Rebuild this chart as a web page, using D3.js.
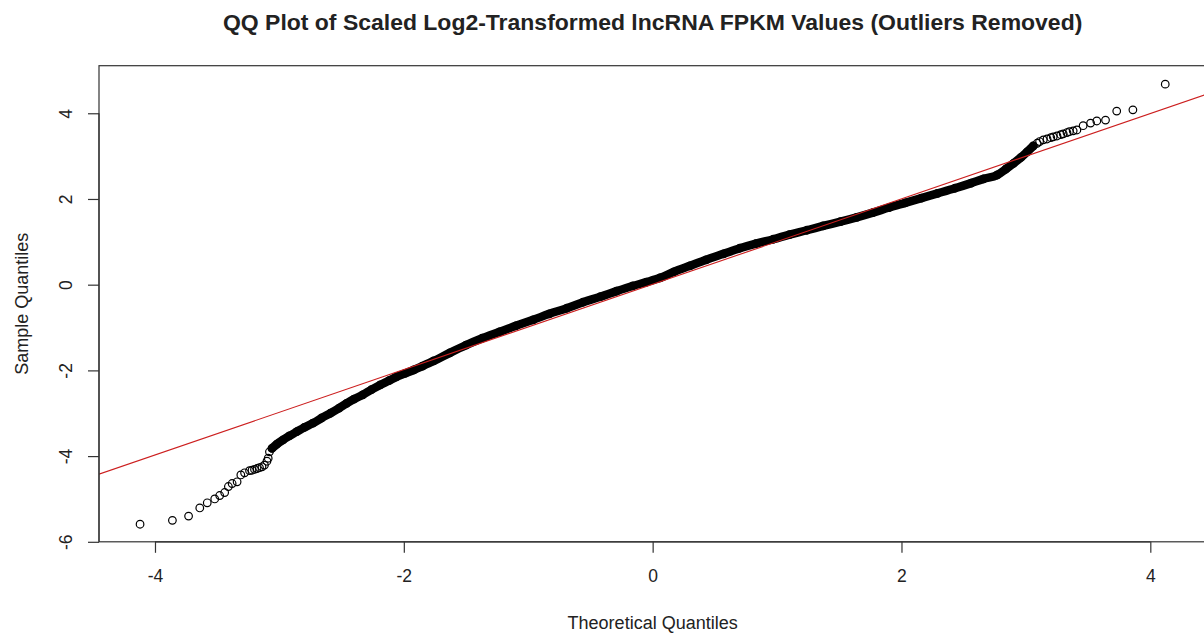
<!DOCTYPE html>
<html><head><meta charset="utf-8">
<script src="https://cdn.jsdelivr.net/npm/d3@7"></script>
<style>
html,body{margin:0;padding:0;background:#fff;}
svg{display:block;}
text{font-family:"Liberation Sans",Arial,Helvetica,sans-serif;fill:#222;}
</style></head><body>
<script>
// ---- data ----
const titleText = "QQ Plot of Scaled Log2-Transformed lncRNA FPKM Values (Outliers Removed)";
const xLabel = "Theoretical Quantiles";
const yLabel = "Sample Quantiles";
const xTicks = [-4, -2, 0, 2, 4];
const yTicks = [-6, -4, -2, 0, 2, 4];
const xDomain = [-4.45, 4.45];
const yDomain = [-6.0, 5.11];

// theoretical quantiles (x) and sample quantiles (y), sorted
const theoretical = [
 -4.12,-3.86,-3.73,-3.64,-3.58,-3.52,-3.48,-3.44,-3.41,-3.38,-3.34,-3.31,-3.28,-3.24,-3.22,-3.20,-3.18,-3.16,-3.14,-3.12,-3.10,-3.09,-3.08,
 -3.06,-3.02,-2.97,-2.92,-2.86,-2.80,-2.73,-2.66,-2.59,-2.52,-2.46,-2.40,-2.33,-2.26,-2.19,-2.12,-2.06,-1.99,-1.92,-1.85,
 -1.76,-1.63,-1.50,-1.37,-1.23,-1.10,-0.96,-0.83,-0.69,-0.56,-0.42,-0.29,-0.16,-0.05,0.06,0.17,0.30,0.43,0.57,0.70,0.83,
 0.97,1.10,1.24,1.37,1.51,1.64,1.77,1.90,2.03,2.16,2.29,2.43,2.56,2.66,2.77,2.84,2.90,2.96,3.01,3.06,
 3.09,3.11,3.14,3.17,3.20,3.22,3.25,3.28,3.30,3.33,3.35,3.38,3.41,3.46,3.52,3.57,3.64,3.73,3.86,4.12
];
const sample = [
 -5.59,-5.50,-5.40,-5.21,-5.09,-5.00,-4.92,-4.85,-4.71,-4.64,-4.60,-4.44,-4.39,-4.34,-4.33,-4.31,-4.29,-4.27,-4.25,-4.21,-4.12,-4.05,-3.90,
 -3.82,-3.72,-3.62,-3.53,-3.43,-3.33,-3.23,-3.11,-3.00,-2.88,-2.77,-2.67,-2.57,-2.45,-2.34,-2.24,-2.15,-2.07,-1.99,-1.90,
 -1.78,-1.59,-1.41,-1.25,-1.10,-0.96,-0.82,-0.68,-0.55,-0.41,-0.28,-0.15,-0.03,0.06,0.16,0.30,0.44,0.58,0.72,0.85,0.96,
 1.06,1.17,1.27,1.37,1.47,1.57,1.68,1.80,1.91,2.02,2.13,2.25,2.37,2.47,2.56,2.70,2.83,2.97,3.10,3.24,
 3.30,3.34,3.38,3.40,3.43,3.45,3.47,3.50,3.52,3.55,3.57,3.59,3.61,3.71,3.77,3.82,3.84,4.05,4.08,4.68
];
const denseRange = [-3.06, 3.06];   // where the points overlap into a solid band
const lineIntercept = 0.01;
const lineSlope = 0.996;

// ---- drawing ----
const W = 1204, H = 635;
const plot = {left: 99, right: 1206.3, top: 65.7, bottom: 541.8};

const svg = d3.select("body").append("svg").attr("width", W).attr("height", H);

const x = d3.scaleLinear().domain(xDomain).range([plot.left, plot.right]);
const y = d3.scaleLinear().domain(yDomain).range([plot.bottom, plot.top]);

svg.append("defs").append("clipPath").attr("id", "clip")
  .append("rect").attr("x", plot.left).attr("y", plot.top)
  .attr("width", plot.right - plot.left).attr("height", plot.bottom - plot.top);

const g = svg.append("g").attr("clip-path", "url(#clip)");

const pts = theoretical.map((t, i) => ({t, s: sample[i]}));
const dense = pts.filter(p => p.t >= denseRange[0] && p.t <= denseRange[1]);

g.append("path").datum(dense)
  .attr("d", d3.line().x(p => x(p.t)).y(p => y(p.s)).curve(d3.curveMonotoneX))
  .attr("fill", "none").attr("stroke", "#000").attr("stroke-width", 8.5)
  .attr("stroke-linecap", "round").attr("stroke-linejoin", "round");

g.selectAll("circle.pt").data(pts).join("circle")
  .attr("class", "pt")
  .attr("cx", p => x(p.t)).attr("cy", p => y(p.s)).attr("r", 3.8)
  .attr("fill", "none").attr("stroke", "#000").attr("stroke-width", 1.2);

// reference line
g.append("line")
  .attr("x1", x(xDomain[0])).attr("y1", y(lineIntercept + lineSlope * xDomain[0]))
  .attr("x2", x(xDomain[1])).attr("y2", y(lineIntercept + lineSlope * xDomain[1]))
  .attr("stroke", "#cc1f1f").attr("stroke-width", 1.1);

// box
svg.append("rect").attr("x", plot.left).attr("y", plot.top)
  .attr("width", plot.right - plot.left).attr("height", plot.bottom - plot.top)
  .attr("fill", "none").attr("stroke", "#333").attr("stroke-width", 1.2);

const fmt = d => String(d);

// x axis
const xAxis = svg.append("g").attr("transform", `translate(0,${plot.bottom})`)
  .call(d3.axisBottom(x).tickValues(xTicks).tickSize(11).tickPadding(17).tickFormat(fmt));
xAxis.select(".domain").attr("stroke", "#333").attr("stroke-width", 1.2)
  .attr("d", `M${x(xTicks[0])},0H${x(xTicks[xTicks.length-1])}`);
xAxis.selectAll(".tick line").attr("stroke", "#333").attr("stroke-width", 1.2);
xAxis.selectAll(".tick text").attr("font-size", 17.5).attr("fill", "#222")
  .attr("font-family", "Liberation Sans, Arial, sans-serif").attr("dy", "0.71em");

// y axis (labels rotated, as in R default)
const yAxis = svg.append("g").attr("transform", `translate(${plot.left},0)`)
  .call(d3.axisLeft(y).tickValues(yTicks).tickSize(11).tickFormat(fmt));
yAxis.select(".domain").attr("stroke", "#333").attr("stroke-width", 1.2)
  .attr("d", `M0,${y(yTicks[0])}V${y(yTicks[yTicks.length-1])}`);
yAxis.selectAll(".tick line").attr("stroke", "#333").attr("stroke-width", 1.2);
yAxis.selectAll(".tick text")
  .attr("font-size", 17.5).attr("fill", "#222")
  .attr("font-family", "Liberation Sans, Arial, sans-serif")
  .attr("x", null).attr("dy", null)
  .attr("text-anchor", "middle")
  .attr("transform", "translate(-27,0) rotate(-90)");

// axis titles
svg.append("text").attr("x", (plot.left + plot.right) / 2).attr("y", 629)
  .attr("text-anchor", "middle").attr("font-size", 18).text(xLabel);
svg.append("text").attr("transform", `translate(28,${(plot.top + plot.bottom) / 2}) rotate(-90)`)
  .attr("text-anchor", "middle").attr("font-size", 18).text(yLabel);

// title
const title = svg.append("text").attr("x", (plot.left + plot.right) / 2).attr("y", 30)
  .attr("text-anchor", "middle").attr("font-weight", "bold").attr("font-size", 20)
  .attr("fill", "#111").text(titleText);
const tw = title.node().getComputedTextLength();
title.attr("font-size", 20 * 860 / tw);
</script>
</body></html>
